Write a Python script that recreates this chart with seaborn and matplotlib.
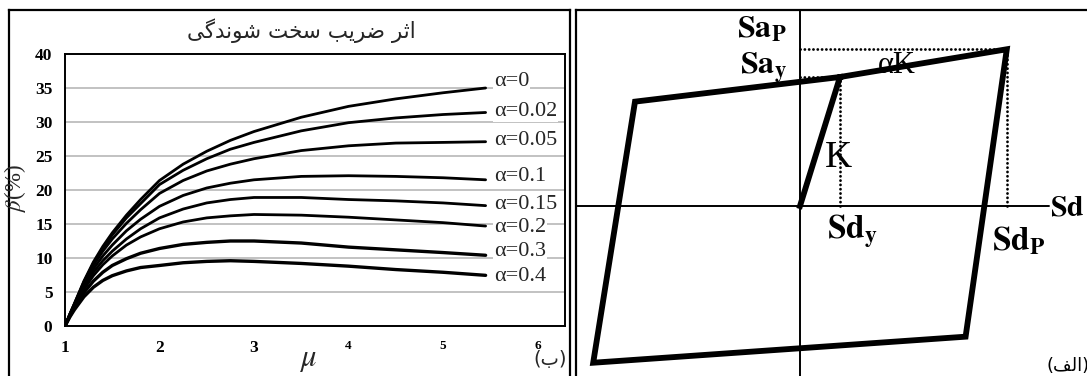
import matplotlib
matplotlib.use("Agg")
import matplotlib.pyplot as plt
import numpy as np
import pandas as pd
import seaborn as sns

sns.set_theme(style="white")
plt.rcParams["font.family"] = ["Liberation Serif", "DejaVu Sans"]
plt.rcParams["mathtext.fontset"] = "stix"

# ---------------- data: damping ratio vs ductility ----------------
mu = [1.0, 1.05, 1.1, 1.2, 1.3, 1.4, 1.5, 1.65, 1.8, 2.0, 2.25, 2.5, 2.75,
      3.0, 3.5, 4.0, 4.5, 5.0, 5.45]
alphas = ["0", "0.02", "0.05", "0.1", "0.15", "0.2", "0.3", "0.4"]
beta_a0 = [0, 1.7, 3.3, 6.6, 9.4, 11.7, 13.7, 16.3, 18.6, 21.4, 23.8, 25.7,
           27.3, 28.6, 30.7, 32.3, 33.4, 34.3, 35.0]
beta_a002 = [0, 1.7, 3.3, 6.5, 9.2, 11.4, 13.4, 15.9, 18.0, 20.8, 22.9, 24.6,
             26.0, 27.0, 28.7, 29.9, 30.6, 31.1, 31.4]
beta_a005 = [0, 1.7, 3.2, 6.3, 8.9, 11.0, 12.8, 15.1, 17.1, 19.5, 21.4, 22.8,
             23.8, 24.6, 25.8, 26.5, 26.9, 27.0, 27.1]
beta_a01 = [0, 1.6, 3.1, 6.0, 8.4, 10.3, 11.9, 14.0, 15.7, 17.6, 19.2, 20.3,
            21.0, 21.5, 22.0, 22.1, 22.0, 21.8, 21.5]
beta_a015 = [0, 1.6, 3.0, 5.7, 7.9, 9.6, 11.0, 12.8, 14.3, 15.9, 17.2, 18.1,
             18.6, 18.9, 18.9, 18.6, 18.4, 18.1, 17.7]
beta_a02 = [0, 1.5, 2.9, 5.4, 7.4, 9.0, 10.3, 11.9, 13.1, 14.3, 15.3, 15.9,
            16.2, 16.4, 16.3, 16.0, 15.6, 15.2, 14.7]
beta_a03 = [0, 1.4, 2.7, 4.9, 6.6, 7.9, 8.9, 9.9, 10.7, 11.4, 12.0, 12.3,
            12.5, 12.5, 12.2, 11.6, 11.2, 10.8, 10.4]
beta_a04 = [0, 1.3, 2.4, 4.3, 5.7, 6.7, 7.4, 8.1, 8.6, 8.9, 9.3, 9.5,
            9.6, 9.5, 9.2, 8.8, 8.3, 7.9, 7.45]
beta_series = [beta_a0, beta_a002, beta_a005, beta_a01,
               beta_a015, beta_a02, beta_a03, beta_a04]
x_ticks = [1, 2, 3, 4, 5, 6]
y_ticks = [0, 5, 10, 15, 20, 25, 30, 35, 40]

# ---------------- data: bilinear hysteresis loop (Sd/Sdy, Sa/Say) ----------------
loop_sd = [0.0, 1.0, 5.17, 4.14, -5.17, -4.125, 1.0]
loop_sa = [0.0, 1.0, 1.215, -1.013, -1.215, 0.809, 1.0]
yield_pt = (1.0, 1.0)
peak_pt = (5.17, 1.215)

df = pd.DataFrame({
    "mu": np.tile(mu, len(alphas)),
    "beta": np.concatenate(beta_series),
    "alpha": np.repeat(alphas, len(mu)),
})

W, H = 1087, 376
fig = plt.figure(figsize=(W / 100, H / 100), dpi=100)


def fx(px):
    return px / W


def fy(py):
    return 1 - py / H


# outer frame of the left panel
frame = fig.add_axes([fx(9), 0, fx(570) - fx(9), fy(10)])
frame.set_xticks([]); frame.set_yticks([])
frame.patch.set_alpha(0)
for side in ["left", "top", "right"]:
    frame.spines[side].set_visible(True)
    frame.spines[side].set_color("black")
    frame.spines[side].set_linewidth(1.6)
frame.spines["bottom"].set_visible(False)

# ---------------- left panel ----------------
ax = fig.add_axes([fx(65), fy(326), fx(565) - fx(65), fy(54) - fy(326)])
ax.set_xlim(1, 6.29)
ax.set_ylim(0, 40)
ax.set_axisbelow(True)
ax.yaxis.grid(True, color="#bdbdbd", linewidth=1.3)
ax.xaxis.grid(False)

widths = [2.0, 2.0, 2.0, 2.0, 2.0, 2.0, 2.4, 2.4]
for a, lw in zip(alphas, widths):
    sns.lineplot(data=df[df["alpha"] == a], x="mu", y="beta", ax=ax,
                 color="black", linewidth=lw, sort=False, estimator=None,
                 legend=False)

label_y = [35.9, 31.5, 27.35, 21.95, 17.8, 14.45, 11.0, 7.25]
for a, ly in zip(alphas, label_y):
    ax.text(5.54, ly, "\u03b1=" + a, fontsize=16, family="Liberation Serif",
            ha="left", va="center",
            bbox=dict(facecolor="white", edgecolor="none", pad=0.5))

ax.set_xticks(x_ticks)
ax.set_yticks(y_ticks)
ax.set_xticklabels([str(t) for t in x_ticks])
ax.set_yticklabels([str(t) for t in y_ticks])
ax.tick_params(axis="both", direction="in", length=4, width=1.2, colors="black")
ax.tick_params(axis="y", pad=9)
ax.tick_params(axis="x", pad=10)
for lab in ax.get_yticklabels():
    lab.set_fontweight("bold"); lab.set_fontsize(12.5)
for lab, t in zip(ax.get_xticklabels(), x_ticks):
    lab.set_fontweight("bold")
    lab.set_fontsize(12.5 if t <= 3 else 9.5)
ax.set_xlabel(""); ax.set_ylabel("")
for s in ax.spines.values():
    s.set_visible(True); s.set_color("black"); s.set_linewidth(1.4)

# Persian title, written with presentation forms in display order
title_fa = ("\uFEF0\uFB94\uFEAA\uFEE7\uFEEE\uFEB7 \uFE96\uFEA8\uFEB3 "
            "\uFE90\uFEF3\uFEAE\uFEBF \uFEAE\uFE9B\uFE8D")
fig.text(fx(301), fy(31), title_fa, fontsize=15.5, family="DejaVu Sans",
         ha="center", va="center")
fig.text(fx(308), fy(360), r"$\mu$", fontsize=22, ha="center", va="center")
fig.text(fx(15), fy(188), r"$\beta$(%)", fontsize=16.5, rotation=90,
         ha="center", va="center")
fig.text(fx(550), fy(360), "(\uFE8F)", fontsize=14, family="DejaVu Sans",
         ha="center", va="center")

# ---------------- right panel ----------------
SX, SY, OX, OY = 40.0, 129.0, 800.0, 206.0  # px per unit, origin in px
L, T = 576, 10
rx = fig.add_axes([fx(L), 0, 1 - fx(L), fy(T)])
rx.set_xlim((L - OX) / SX, (W - OX) / SX)
rx.set_ylim((OY - H) / SY, (OY - T) / SY)
rx.set_xticks([]); rx.set_yticks([])
rx.patch.set_alpha(0)
for side in ["left", "top"]:
    rx.spines[side].set_visible(True)
    rx.spines[side].set_color("black")
    rx.spines[side].set_linewidth(1.6)
rx.spines["right"].set_visible(False)
rx.spines["bottom"].set_visible(False)


def d(px, py):
    return (px - OX) / SX, (OY - py) / SY


# coordinate axes
rx.axvline(0, color="black", linewidth=1.4)
rx.plot([(L - OX) / SX, d(1049, 0)[0]], [0, 0], color="black", linewidth=1.4)

dot = dict(color="black", linewidth=2.0, linestyle=(0, (0.05, 1.5)),
           dash_capstyle="round")
rx.plot([0, yield_pt[0]], [yield_pt[1], yield_pt[1]], **dot)
rx.plot([yield_pt[0], yield_pt[0]], [0, yield_pt[1]], **dot)
rx.plot([0, peak_pt[0]], [peak_pt[1], peak_pt[1]], **dot)
rx.plot([peak_pt[0], peak_pt[0]], [0, peak_pt[1]], **dot)

loop_df = pd.DataFrame({"Sd": loop_sd, "Sa": loop_sa})
sns.lineplot(data=loop_df, x="Sd", y="Sa", ax=rx, sort=False, estimator=None,
             color="black", linewidth=4.2, solid_joinstyle="miter",
             solid_capstyle="projecting")
rx.set_xlabel(""); rx.set_ylabel("")

lab = dict(ha="left", va="baseline", color="black")
rx.text(*d(737, 38), r"$\mathbf{Sa_P}$", fontsize=23, **lab)
rx.text(*d(740, 75), r"$\mathbf{Sa_y}$", fontsize=23, **lab)
rx.text(*d(878, 73), "\u03b1K", fontsize=22, family="Liberation Serif", **lab)
rx.text(*d(825, 167), "K", fontsize=27, family="Liberation Serif", **lab)
rx.text(*d(827, 238), r"$\mathbf{Sd_y}$", fontsize=24, **lab)
rx.text(*d(992, 250), r"$\mathbf{Sd_P}$", fontsize=24, **lab)
rx.text(*d(1050, 216), r"$\mathbf{Sd}$", fontsize=21.5, **lab)
rx.text(*d(1046, 371), "(\uFED2\uFEDF\uFE8D)", fontsize=13,
        family="DejaVu Sans", **lab)

fig.savefig("out.png", dpi=100)
